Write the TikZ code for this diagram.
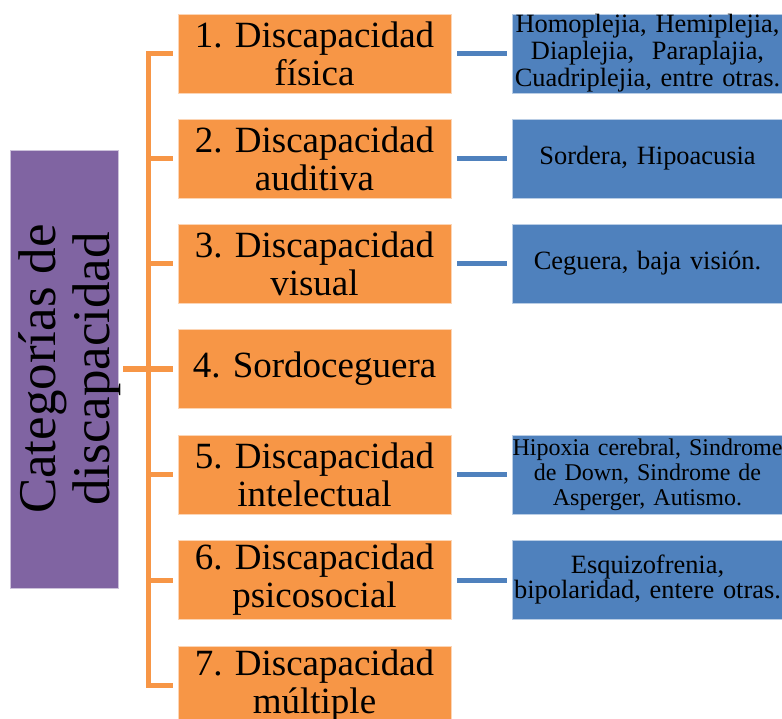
\documentclass[tikz,border=0pt]{standalone}
\usepackage{fontspec}
\setmainfont{Liberation Serif}
\frenchspacing
\definecolor{orng}{HTML}{F79646}
\definecolor{blu}{HTML}{4F81BD}
\definecolor{purp}{HTML}{8064A2}
\tikzset{
  catbox/.style={rectangle, fill=orng, draw=white!60!orng, line width=0.6pt, inner sep=0pt,
    minimum width=273pt, minimum height=79pt, text width=273pt, align=center,
    font=\fontsize{37}{38}\selectfont},
  exbox/.style={rectangle, fill=blu, draw=white!60!blu, line width=0.6pt, inner sep=0pt,
    minimum width=271pt, minimum height=79pt, text width=271pt, align=center,
    font=\fontsize{26.4}{27}\selectfont},
  mainbox/.style={rectangle, fill=purp, draw=white!60!purp, line width=0.6pt, inner sep=0pt,
    minimum width=108pt, minimum height=438pt},
  orline/.style={draw=orng, line width=5pt},
  blline/.style={draw=blu, line width=5pt},
}
\begin{document}
\begin{tikzpicture}[x=1pt,y=-1pt]
\clip (0,0) rectangle (782,719);
\fill[white] (0,0) rectangle (782,719);
% main box
\node[mainbox] (main) at (64,369) {};
\node[rotate=90, inner sep=0pt, align=center, font=\fontsize{53}{54}\selectfont] (maintext) at (69.4,369) {Categorías de\\discapacidad};
% category boxes
\node[catbox] (o1) at (314.5,53.5) {1. Discapacidad\\física};
\node[catbox] (o2) at (314.5,158.5) {2. Discapacidad\\auditiva};
\node[catbox] (o3) at (314.5,263.5) {3. Discapacidad\\visual};
\node[catbox] (o4) at (314.5,369) {4. Sordoceguera};
\node[catbox] (o5) at (314.5,474.5) {5. Discapacidad\\intelectual};
\node[catbox] (o6) at (314.5,580) {6. Discapacidad\\psicosocial};
\node[catbox] (o7) at (314.5,685.5) {7. Discapacidad\\múltiple};
% example boxes
\node[exbox] (b1) at (647.5,53.5) {Homoplejia, Hemiplejia,\\Diaplejia, \ Paraplajia,\\Cuadriplejia, entre otras.};
\node[exbox] (b2) at (647.5,158.5) {Sordera, Hipoacusia};
\node[exbox] (b3) at (647.5,263.5) {Ceguera, baja visión.};
\node[exbox, font=\fontsize{24}{25}\selectfont] (b5) at (647.5,474.5) {Hipoxia cerebral, Sindrome\\de Down, Sindrome de\\Asperger, Autismo.};
\node[exbox, font=\fontsize{26.4}{25}\selectfont] (b6) at (647.5,580) {Esquizofrenia,\\bipolaridad, entere otras.};
% bus
\coordinate (bus) at (148.5,0);
\draw[orline] ([xshift=5pt]main.east) -- (main.east -| bus);
\draw[orline, line join=miter] ([xshift=-5pt]o1.west) -- (o1.west -| bus) -- (o7.west -| bus) -- ([xshift=-5pt]o7.west);
\foreach \n in {2,3,4,5,6}{
  \draw[orline] ([xshift=-5pt]o\n.west) -- (o\n.west -| bus);
}
% blue connectors
\foreach \n in {1,2,3,5,6}{
  \draw[blline] ([xshift=6pt]o\n.east) -- ([xshift=-5pt]o\n.east -| b\n.west);
}
\end{tikzpicture}
\end{document}
